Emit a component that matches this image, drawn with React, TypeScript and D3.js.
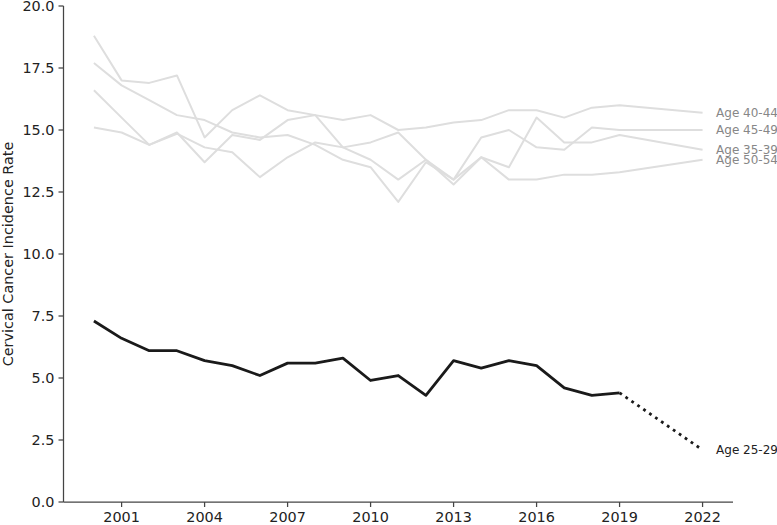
import React from "react";
import * as d3 from "d3";

const years = [2000, 2001, 2002, 2003, 2004, 2005, 2006, 2007, 2008, 2009, 2010, 2011, 2012, 2013, 2014, 2015, 2016, 2017, 2018, 2019, 2022];

const age4044 = [18.8, 17.0, 16.9, 17.2, 14.7, 15.8, 16.4, 15.8, 15.6, 15.4, 15.6, 15.0, 15.1, 15.3, 15.4, 15.8, 15.8, 15.5, 15.9, 16.0, 15.7];
const age3539 = [17.7, 16.8, 16.2, 15.6, 15.4, 14.9, 14.7, 14.8, 14.4, 13.8, 13.5, 12.1, 13.7, 13.0, 13.9, 13.5, 15.5, 14.5, 14.5, 14.8, 14.2];
const age4549 = [16.6, 15.5, 14.4, 14.9, 13.7, 14.8, 14.6, 15.4, 15.6, 14.3, 14.5, 14.9, 13.8, 13.0, 14.7, 15.0, 14.3, 14.2, 15.1, 15.0, 15.0];
const age5054 = [15.1, 14.9, 14.4, 14.85, 14.3, 14.1, 13.1, 13.9, 14.5, 14.3, 13.8, 13.0, 13.8, 12.8, 13.9, 13.0, 13.0, 13.2, 13.2, 13.3, 13.8];

const age2529Years = [2000, 2001, 2002, 2003, 2004, 2005, 2006, 2007, 2008, 2009, 2010, 2011, 2012, 2013, 2014, 2015, 2016, 2017, 2018, 2019];
const age2529 = [7.3, 6.6, 6.1, 6.1, 5.7, 5.5, 5.1, 5.6, 5.6, 5.8, 4.9, 5.1, 4.3, 5.7, 5.4, 5.7, 5.5, 4.6, 4.3, 4.4];
const projYears = [2019, 2022];
const projValues = [4.4, 2.1];

const grayLabels = ["Age 40-44", "Age 35-39", "Age 45-49", "Age 50-54"];
const mainLabel = "Age 25-29";

const xTicks = [2001, 2004, 2007, 2010, 2013, 2016, 2019, 2022];
const yTicks = [0, 2.5, 5, 7.5, 10, 12.5, 15, 17.5, 20];
const yLabel = "Cervical Cancer Incidence Rate";

const W = 777;
const H = 525;
const FONT = "DejaVu Sans, sans-serif";

export default function App() {
  const left = 63.5;
  const right = 733;
  const top = 6;
  const bottom = 502;
  const x = d3.scaleLinear().domain([1998.9, 2023.1]).range([left, right]);
  const y = d3.scaleLinear().domain([0, 20]).range([bottom, top]);

  const line = d3
    .line<[number, number]>()
    .x((d) => x(d[0]))
    .y((d) => y(d[1]));

  const graySeries = [age4044, age3539, age4549, age5054];

  return (
    <svg width={W} height={H} style={{ position: "absolute", left: 0, top: 0, background: "#fff" }} fontFamily={FONT}>
      {graySeries.map((s, i) => (
        <path
          key={"g" + i}
          d={line(years.map((yr, j) => [yr, s[j]] as [number, number])) || ""}
          fill="none"
          stroke="#dedede"
          strokeWidth={2}
          strokeLinejoin="round"
        />
      ))}
      {graySeries.map((s, i) => (
        <text
          key={"gl" + i}
          x={x(years[years.length - 1]) + 13.5}
          y={y(s[s.length - 1])}
          dominantBaseline="central"
          fontSize={12}
          fill="#878787"
        >
          {grayLabels[i]}
        </text>
      ))}
      <path
        d={line(age2529Years.map((yr, j) => [yr, age2529[j]] as [number, number])) || ""}
        fill="none"
        stroke="#1a1a1a"
        strokeWidth={2.8}
        strokeLinejoin="round"
      />
      <path
        d={line(projYears.map((yr, j) => [yr, projValues[j]] as [number, number])) || ""}
        fill="none"
        stroke="#1a1a1a"
        strokeWidth={2.8}
        strokeDasharray="2.8,4.4"
      />
      <text
        x={x(projYears[1]) + 13.5}
        y={y(projValues[1])}
        dominantBaseline="central"
        fontSize={12}
        fill="#222"
      >
        {mainLabel}
      </text>

      {/* axes */}
      <line x1={left} x2={left} y1={top} y2={bottom} stroke="#444" strokeWidth={1.25} />
      <line x1={left} x2={right} y1={bottom} y2={bottom} stroke="#444" strokeWidth={1.25} />
      {yTicks.map((t) => (
        <g key={"yt" + t}>
          <line x1={left - 5} x2={left} y1={y(t)} y2={y(t)} stroke="#444" strokeWidth={1.25} />
          <text x={left - 9} y={y(t)} textAnchor="end" dominantBaseline="central" fontSize={14.4} fill="#222">
            {t.toFixed(1)}
          </text>
        </g>
      ))}
      {xTicks.map((t) => (
        <g key={"xt" + t}>
          <line x1={x(t)} x2={x(t)} y1={bottom} y2={bottom + 5} stroke="#444" strokeWidth={1.25} />
          <text x={x(t)} y={bottom + 10} textAnchor="middle" dominantBaseline="hanging" fontSize={14.4} fill="#222">
            {t}
          </text>
        </g>
      ))}
      <text
        transform={`translate(8, ${(top + bottom) / 2}) rotate(-90)`}
        textAnchor="middle"
        dominantBaseline="central"
        fontSize={14.4}
        fill="#222"
      >
        {yLabel}
      </text>
    </svg>
  );
}
